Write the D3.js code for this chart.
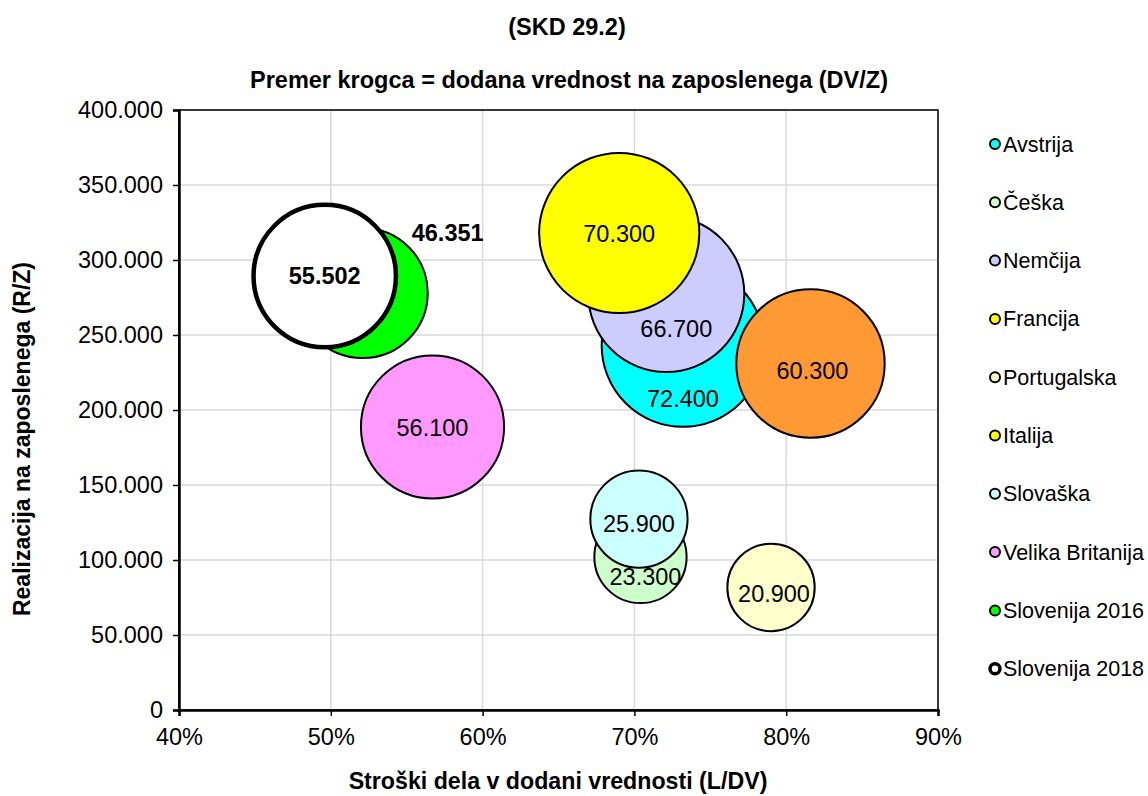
<!DOCTYPE html>
<html>
<head>
<meta charset="utf-8">
<script src="https://cdn.jsdelivr.net/npm/d3@7"></script>
<style>
  html, body { margin: 0; padding: 0; background: #fff; }
  svg { display: block; font-family: "Liberation Sans", Arial, sans-serif; }
</style>
</head>
<body>
<svg id="chart" width="1148" height="796"></svg>
<script>
// ---- DATA ----
const series = ["Avstrija", "Češka", "Nemčija", "Francija", "Portugalska", "Italija", "Slovaška", "Velika Britanija", "Slovenija 2016", "Slovenija 2018"];
const laborCostShare = [0.732, 0.704, 0.721, 0.690, 0.790, 0.816, 0.703, 0.567, 0.521, 0.496];      // L/DV
const revenuePerEmployee = [243000, 102000, 277300, 318000, 81700, 231000, 127300, 188700, 278000, 289300]; // R/Z
const valueAddedPerEmployee = [72.400, 23.300, 66.700, 70.300, 20.900, 60.300, 25.900, 56.100, 46.351, 55.502]; // DV/Z (thousand)
const labelTexts = ["72.400", "23.300", "66.700", "70.300", "20.900", "60.300", "25.900", "56.100", "46.351", "55.502"];
const xTickValues = [0.4, 0.5, 0.6, 0.7, 0.8, 0.9];
const yTickValues = [0, 50000, 100000, 150000, 200000, 250000, 300000, 350000, 400000];

// ---- STYLES ----
const bubbleFill = ["#00FFFF", "#CCFFCC", "#CCCCFF", "#FFFF00", "#FFFFCC", "#FF9933", "#CCFFFF", "#FF99FF", "#00FF00", "#FFFFFF"];
const legendFill = ["#00FFFF", "#CCFFCC", "#CCCCFF", "#FFFF00", "#FFFFCC", "#FFFF00", "#CCFFFF", "#FF99FF", "#00FF00", "#FFFFFF"];
const strokeW = [2, 2, 2, 2, 2, 2, 2, 2, 2, 4.5];
const labelBold = [false, false, false, false, false, false, false, false, true, true];
const labelOffset = [[0, 53], [5, 20], [10, 35], [0, 1], [3, 6], [2, 7], [0, 5], [0, 1], [85, -60], [0, 0]];

const svg = d3.select("#chart");
const x = d3.scaleLinear().domain([0.4, 0.9]).range([179, 938]);
const y = d3.scaleLinear().domain([0, 400000]).range([710, 110]);
const r = d3.scaleSqrt().domain([0, 72.4]).range([0, 81.3]);

// titles
svg.append("text").attr("x", 567).attr("y", 27).attr("dy", "0.35em")
  .attr("text-anchor", "middle").attr("font-weight", "bold").attr("font-size", 23.5)
  .text("(SKD 29.2)");
svg.append("text").attr("x", 569).attr("y", 80).attr("dy", "0.35em")
  .attr("text-anchor", "middle").attr("font-weight", "bold").attr("font-size", 23.5)
  .text("Premer krogca = dodana vrednost na zaposlenega (DV/Z)");

// gridlines
const grid = svg.append("g");
grid.selectAll("line.v").data(xTickValues).join("line")
  .attr("x1", d => x(d)).attr("x2", d => x(d)).attr("y1", y(400000)).attr("y2", y(0))
  .attr("stroke", "#d9d9d9").attr("stroke-width", 1.5);
grid.selectAll("line.h").data(yTickValues).join("line")
  .attr("x1", x(0.4)).attr("x2", x(0.9)).attr("y1", d => y(d)).attr("y2", d => y(d))
  .attr("stroke", "#d9d9d9").attr("stroke-width", 1.5);

// plot border
svg.append("rect").attr("x", x(0.4)).attr("y", y(400000))
  .attr("width", x(0.9) - x(0.4)).attr("height", y(0) - y(400000))
  .attr("fill", "none").attr("stroke", "#000").attr("stroke-width", 1.5);

// axes
const fmtY = v => d3.format(",")(v).replace(/,/g, ".");
const yAxis = d3.axisLeft(y).tickValues(yTickValues).tickFormat(fmtY).tickSize(6).tickPadding(10);
const gy = svg.append("g").attr("transform", `translate(${x(0.4)},0)`).call(yAxis);
gy.select(".domain").attr("stroke-width", 2.5);
gy.selectAll(".tick line").attr("stroke-width", 1.5);
gy.selectAll("text").attr("font-size", 23.5).attr("font-family", "Liberation Sans, Arial, sans-serif").attr("fill", "#000");

const xAxis = d3.axisBottom(x).tickValues(xTickValues).tickFormat(d3.format(".0%")).tickSize(6).tickPadding(12);
const gx = svg.append("g").attr("transform", `translate(0,${y(0)})`).call(xAxis);
gx.select(".domain").attr("stroke-width", 2.5);
gx.selectAll(".tick line").attr("stroke-width", 1.5);
gx.selectAll("text").attr("font-size", 23.5).attr("font-family", "Liberation Sans, Arial, sans-serif").attr("fill", "#000");

// axis titles
svg.append("text").attr("x", 558).attr("y", 781).attr("dy", "0.35em")
  .attr("text-anchor", "middle").attr("font-weight", "bold").attr("font-size", 23.2)
  .text("Stroški dela v dodani vrednosti (L/DV)");
svg.append("text").attr("transform", "translate(22,439) rotate(-90)").attr("dy", "0.35em")
  .attr("text-anchor", "middle").attr("font-weight", "bold").attr("font-size", 23)
  .text("Realizacija na zaposlenega (R/Z)");

// bubbles
const data = series.map((s, i) => ({
  name: s, lx: laborCostShare[i], ry: revenuePerEmployee[i], dv: valueAddedPerEmployee[i],
  label: labelTexts[i], fill: bubbleFill[i], sw: strokeW[i], bold: labelBold[i], off: labelOffset[i]
}));
const gb = svg.append("g");
gb.selectAll("circle").data(data).join("circle")
  .attr("cx", d => x(d.lx)).attr("cy", d => y(d.ry)).attr("r", d => r(d.dv))
  .attr("fill", d => d.fill).attr("stroke", "#000").attr("stroke-width", d => d.sw);

svg.append("g").selectAll("text").data(data).join("text")
  .attr("x", d => x(d.lx) + d.off[0]).attr("y", d => y(d.ry) + d.off[1]).attr("dy", "0.35em")
  .attr("text-anchor", "middle").attr("font-size", 23.5)
  .attr("font-weight", d => d.bold ? "bold" : "normal").attr("fill", "#000")
  .text(d => d.label);

// legend
const lg = svg.append("g").attr("transform", "translate(995,144)");
const items = lg.selectAll("g").data(series).join("g")
  .attr("transform", (d, i) => `translate(0,${i * 58.3})`);
items.append("circle").attr("r", 5).attr("fill", (d, i) => legendFill[i])
  .attr("stroke", "#000").attr("stroke-width", (d, i) => i === 9 ? 3.5 : 2);
items.append("text").attr("x", 8).attr("dy", "0.35em").attr("font-size", 21.5)
  .attr("fill", "#000").text(d => d);
</script>
</body>
</html>
